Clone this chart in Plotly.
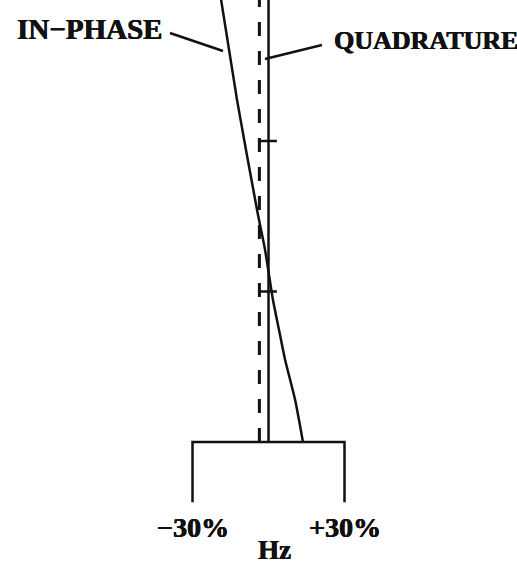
import plotly.graph_objects as go

# Frequency deviation (%) and relative amplitude of the two detector outputs
in_phase_pct = [-19.3, -12.4, -4.5, -1.4, 0.2, 1.8, 4.2, 6.5, 10.5, 13.6]
in_phase_amp = [3.0, 2.27, 1.54, 1.28, 1.11, 0.94, 0.74, 0.55, 0.28, 0.0]

quadrature_pct = [0.0, 0.0]
quadrature_amp = [0.0, 3.0]

reference_pct = [-3.6, -3.6]
reference_amp = [0.0, 3.0]

tick_amp = [1.0, 2.0]

band_edges = [-30, 30]
band_labels = ["\u221230%", "+30%"]
axis_title = "Hz"

BLACK = "#111111"
FONT = "Liberation Serif, Times New Roman, serif"
# a faint outline thickens the bold face slightly
HEAVY = "0.5px 0 0 #111111, -0.3px 0 0 #111111"

fig = go.Figure()

# in-phase response
fig.add_trace(go.Scatter(
    x=in_phase_pct, y=in_phase_amp, mode="lines",
    line=dict(color=BLACK, width=2.5, shape="spline", smoothing=0.6),
    hoverinfo="skip"))

# reference (dashed)
fig.add_trace(go.Scatter(
    x=reference_pct, y=reference_amp, mode="lines",
    line=dict(color=BLACK, width=3, dash="14px,15px"),
    hoverinfo="skip"))

# quadrature response
fig.add_trace(go.Scatter(
    x=quadrature_pct, y=quadrature_amp, mode="lines",
    line=dict(color=BLACK, width=2.5), hoverinfo="skip"))

# amplitude ticks on the quadrature line
fig.add_trace(go.Scatter(
    x=[quadrature_pct[0]] * len(tick_amp), y=tick_amp, mode="markers",
    marker=dict(symbol="line-ew", size=12, line=dict(color=BLACK, width=2.5)),
    hoverinfo="skip"))

# frequency band bracket
lo, hi = band_edges
fig.add_trace(go.Scatter(
    x=[lo, lo, hi, hi], y=[-0.4, 0.0, 0.0, -0.4], mode="lines",
    line=dict(color=BLACK, width=2.5), hoverinfo="skip"))

# band edge labels and axis title
for edge, lab in zip(band_edges, band_labels):
    fig.add_annotation(x=edge, y=-0.571, text=f"<b>{lab}</b>", showarrow=False,
                       xanchor="center", yanchor="middle",
                       font=dict(family=FONT, size=28, color=BLACK, shadow=HEAVY))
fig.add_annotation(x=2.2, y=-0.72, text=f"<b>{axis_title}</b>", showarrow=False,
                   xanchor="center", yanchor="middle",
                   font=dict(family=FONT, size=27, color=BLACK, shadow=HEAVY))

# curve labels
fig.add_annotation(x=-100.1, y=2.744, text="<b>IN\u2212PHASE</b>", showarrow=False,
                   xanchor="left", yanchor="middle",
                   font=dict(family=FONT, size=29, color=BLACK, shadow=HEAVY))
fig.add_annotation(x=25.1, y=2.67, text="<b>QUADRATURE</b>", showarrow=False,
                   xanchor="left", yanchor="middle",
                   font=dict(family=FONT, size=26, color=BLACK, shadow=HEAVY))

# leader lines
fig.add_shape(type="line", x0=-38.9, y0=2.718, x1=-17.96, y1=2.598,
              line=dict(color=BLACK, width=2.5))
fig.add_shape(type="line", x0=-1.4, y0=2.545, x1=21.1, y1=2.638,
              line=dict(color=BLACK, width=2.5))

fig.update_layout(
    width=517, height=575,
    margin=dict(l=0, r=0, t=0, b=0),
    paper_bgcolor="white", plot_bgcolor="white",
    showlegend=False,
    xaxis=dict(range=[-106.0, 98.1], visible=False, fixedrange=True),
    yaxis=dict(range=[-0.884, 2.937], visible=False, fixedrange=True),
)

fig.write_html("out.html")
